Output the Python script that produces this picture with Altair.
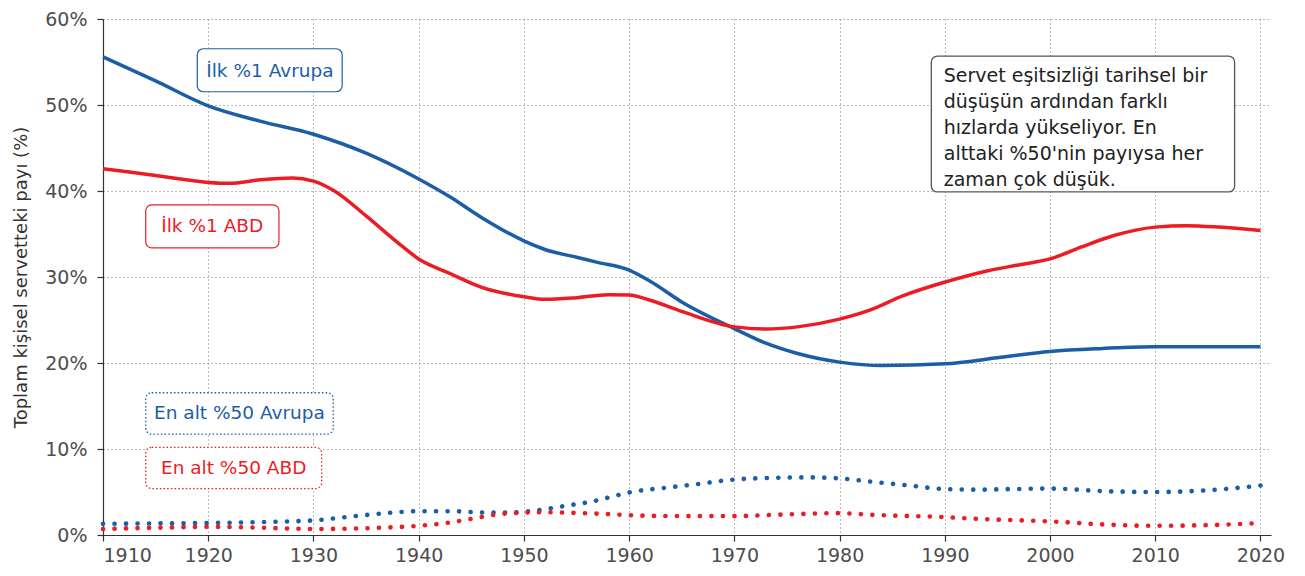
import altair as alt
import pandas as pd

# ---- data ----
eu_top_years = [1910, 1915, 1920, 1925, 1930, 1935, 1940, 1943, 1946, 1950, 1952, 1955, 1957, 1960,
                1962, 1965, 1970, 1973, 1976, 1980, 1984, 1990, 1995, 2000, 2005, 2010, 2015, 2020]
eu_top_vals = [55.6, 52.8, 49.9, 48.1, 46.6, 44.4, 41.4, 39.3, 36.9, 34.2, 33.2, 32.3, 31.7, 30.8,
               29.5, 27.1, 24.0, 22.3, 21.1, 20.1, 19.7, 19.9, 20.6, 21.35, 21.7, 21.9, 21.9, 21.9]

us_top_years = [1910, 1915, 1920, 1922, 1925, 1928, 1930, 1932, 1935, 1938, 1940, 1943, 1946, 1950,
                1952, 1955, 1958, 1960, 1962, 1965, 1970, 1973, 1976, 1980, 1983, 1986, 1990, 1994,
                1997, 2000, 2003, 2006, 2010, 2013, 2016, 2020]
us_top_vals = [42.6, 41.8, 41.0, 40.9, 41.3, 41.5, 41.15, 40.0, 37.1, 34.0, 32.1, 30.4, 28.8, 27.7,
               27.4, 27.6, 27.95, 27.9, 27.3, 26.0, 24.2, 23.95, 24.2, 25.1, 26.2, 27.8, 29.4, 30.7,
               31.4, 32.1, 33.5, 34.8, 35.8, 35.96, 35.8, 35.4]

eu_bot_years = [1910, 1915, 1920, 1925, 1930, 1934, 1938, 1940, 1943, 1946, 1948, 1950, 1952, 1954,
                1956.5, 1958.5, 1960, 1963.5, 1966, 1970, 1974, 1977, 1980, 1983, 1986.5, 1990, 1993,
                1996.5, 2000, 2005, 2010, 2015, 2020]
eu_bot_vals = [1.3, 1.35, 1.4, 1.5, 1.7, 2.2, 2.65, 2.77, 2.77, 2.62, 2.6, 2.7, 3.0, 3.4,
               3.9, 4.5, 4.95, 5.5, 5.85, 6.45, 6.65, 6.7, 6.58, 6.2, 5.77, 5.34, 5.27,
               5.34, 5.4, 5.1, 5.0, 5.2, 5.75]

us_bot_years = [1910, 1915, 1920, 1925, 1930, 1934, 1936.5, 1940, 1943, 1945.5, 1947.5, 1950, 1952,
                1954, 1956.5, 1958.5, 1960, 1965, 1970, 1974, 1980, 1983, 1990, 1993, 1996.5, 2000,
                2005, 2010, 2015, 2020]
us_bot_vals = [0.7, 0.85, 0.95, 0.85, 0.7, 0.75, 0.85, 1.07, 1.46, 2.0, 2.4, 2.6, 2.65,
               2.6, 2.5, 2.4, 2.3, 2.2, 2.2, 2.35, 2.54, 2.35, 2.08, 1.88, 1.73, 1.58,
               1.23, 1.07, 1.15, 1.38]

BLUE = "#1b5ea7"
RED = "#ec1c24"

x_ticks = [1910, 1920, 1930, 1940, 1950, 1960, 1970, 1980, 1990, 2000, 2010, 2020]
y_ticks = [0, 10, 20, 30, 40, 50, 60]

# series labels (boxes, in data coordinates)
label_text = ["İlk %1 Avrupa", "İlk %1 ABD", "En alt %50 Avrupa", "En alt %50 ABD"]
label_color = [BLUE, RED, BLUE, RED]
label_x = [1925.86, 1920.38, 1922.97, 1922.42]
label_y = [54.0, 35.88, 14.13, 7.79]
box_x1 = [1918.96, 1914.06, 1914.06, 1914.06]
box_x2 = [1932.73, 1926.72, 1931.88, 1930.78]
box_y1 = [56.54, 38.39, 16.54, 10.19]
box_y2 = [51.54, 33.38, 11.73, 5.39]
box_dotted = [False, False, True, True]

note_text = ("Servet eşitsizliği tarihsel bir\ndüşüşün ardından farklı\nhızlarda yükseliyor. En\n"
             "alttaki %50'nin payıysa her\nzaman çok düşük.")

# ---- tables ----
def series(years, vals, name, color):
    return pd.DataFrame({"year": years, "value": vals, "series": name, "color": color})

top_df = pd.concat([series(eu_top_years, eu_top_vals, "eu_top", BLUE),
                    series(us_top_years, us_top_vals, "us_top", RED)])
bot_df = pd.concat([series(eu_bot_years, eu_bot_vals, "eu_bot", BLUE),
                    series(us_bot_years, us_bot_vals, "us_bot", RED)])
lab_df = pd.DataFrame({"text": label_text, "color": label_color, "x": label_x, "y": label_y,
                       "x1": box_x1, "x2": box_x2, "y1": box_y1, "y2": box_y2,
                       "dotted": box_dotted})
note_df = pd.DataFrame({"text": [note_text], "x": [1989.9], "y": [53.4],
                        "x1": [1988.72], "x2": [2017.54], "y1": [55.69], "y2": [39.89]})

FONT = "DejaVu Sans"

xs = alt.Scale(domain=[1910, 2021], nice=False, zero=False)
ys = alt.Scale(domain=[0, 60], nice=False)

x_enc = alt.X("year:Q", scale=xs, axis=alt.Axis(values=x_ticks, format="d", title=None,
                                               labelFontSize=19, labelPadding=5, tickSize=6))
y_enc = alt.Y("value:Q", scale=ys,
              axis=alt.Axis(values=y_ticks, labelExpr="datum.value + '%'",
                            title="Toplam kişisel servetteki payı (%)", titleFontSize=18,
                            titleFontWeight="normal", titleColor="#333333", titlePadding=14,
                            labelFontSize=19, labelPadding=10, tickSize=6))

top_lines = alt.Chart(top_df).mark_line(strokeWidth=3.5, interpolate="monotone").encode(
    x=x_enc, y=y_enc, color=alt.Color("color:N", scale=None), detail="series:N")

bot_lines = alt.Chart(bot_df).mark_line(strokeWidth=4.6, interpolate="monotone",
                                        strokeDash=[0.1, 11.4], strokeCap="round").encode(
    x="year:Q", y="value:Q", color=alt.Color("color:N", scale=None), detail="series:N")

solid_boxes = alt.Chart(lab_df).transform_filter("!datum.dotted").mark_rect(
    fill="white", cornerRadius=6, strokeWidth=1.2).encode(
    x="x1:Q", x2="x2:Q", y="y1:Q", y2="y2:Q", stroke=alt.Stroke("color:N", scale=None))

dotted_boxes = alt.Chart(lab_df).transform_filter("datum.dotted").mark_rect(
    fill="white", cornerRadius=6, strokeWidth=1.3, strokeDash=[1.5, 2.2]).encode(
    x="x1:Q", x2="x2:Q", y="y1:Q", y2="y2:Q", stroke=alt.Stroke("color:N", scale=None))

labels = alt.Chart(lab_df).mark_text(font=FONT, fontSize=18.5, align="center",
                                     baseline="middle").encode(
    x="x:Q", y="y:Q", text="text:N", color=alt.Color("color:N", scale=None))

note_box = alt.Chart(note_df).mark_rect(fill="white", stroke="#555555", strokeWidth=1.3,
                                        cornerRadius=6).encode(
    x="x1:Q", x2="x2:Q", y="y1:Q", y2="y2:Q")

note = alt.Chart(note_df).mark_text(font=FONT, fontSize=19, align="left", baseline="middle",
                                    lineBreak="\n", lineHeight=26, color="#222222").encode(
    x="x:Q", y="y:Q", text="text:N")

chart = alt.layer(top_lines, bot_lines, solid_boxes, dotted_boxes, labels, note_box, note).properties(
    width=1168, height=516,
    autosize=alt.AutoSizeParams(type="none"),
    padding={"left": 95, "top": 11, "right": 20, "bottom": 33},
).configure_view(stroke=None).configure_axis(
    labelFont=FONT, titleFont=FONT, labelColor="#4d4d4d",
    domainColor="#333333", tickColor="#333333", domainWidth=1.2, tickWidth=1.2,
    gridColor="#777777", gridDash=[1, 3], gridWidth=1,
)

chart.save("out.html", embed_options={"renderer": "svg", "actions": False})
